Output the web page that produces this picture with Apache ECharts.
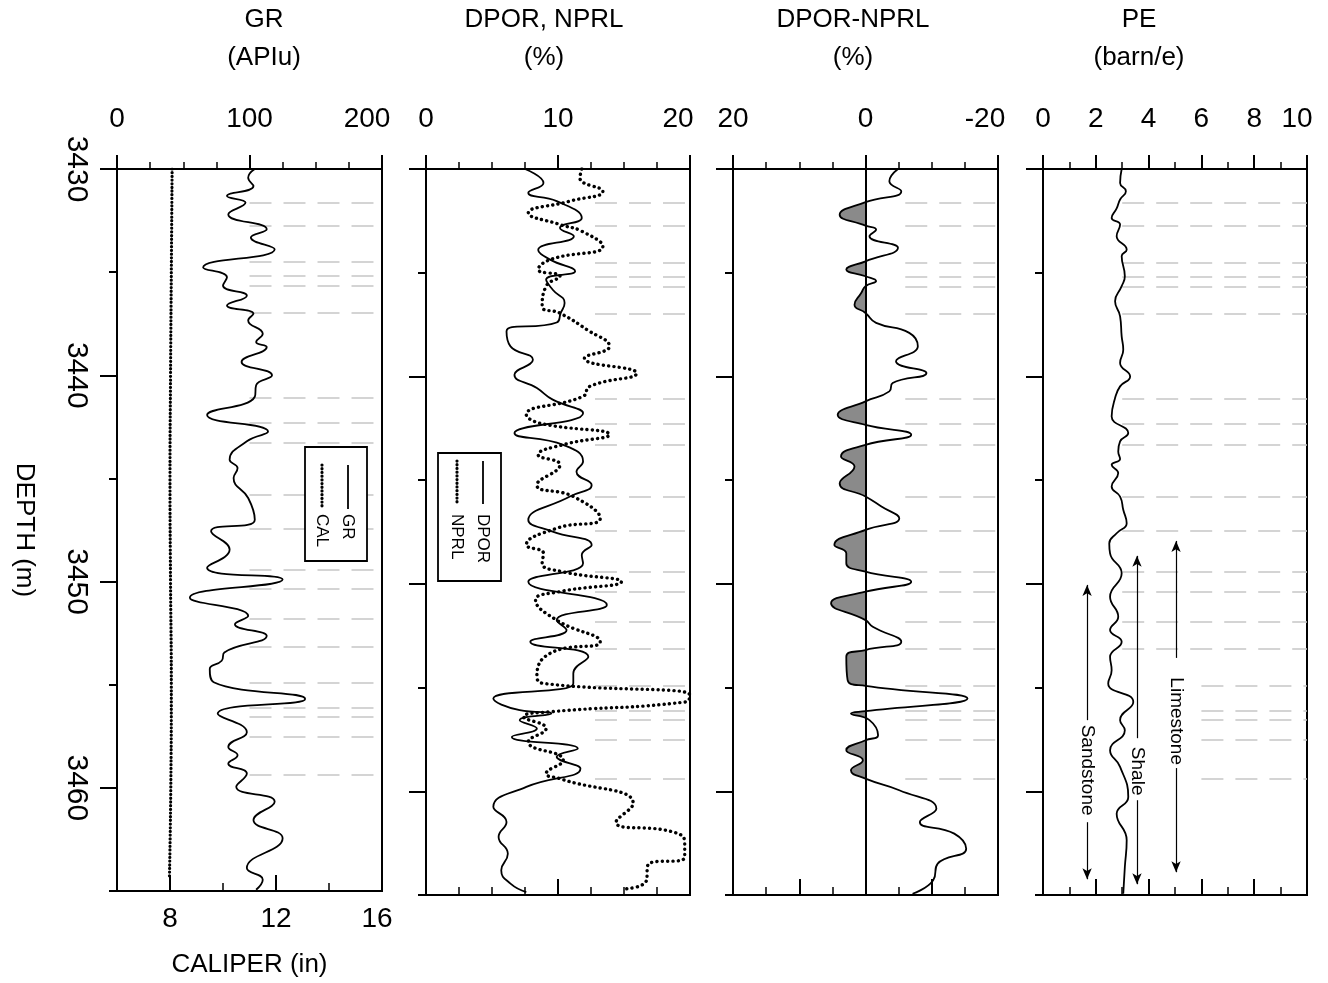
<!DOCTYPE html>
<html>
<head>
<meta charset="utf-8">
<title>Well log</title>
<script src="https://cdn.jsdelivr.net/npm/echarts@6/dist/echarts.min.js"></script>
<style>
  html, body { margin: 0; padding: 0; background: #fff; }
  #chart { width: 1328px; height: 983px; }
</style>
</head>
<body>
<div id="chart"></div>
<script>
// depth in metres, readings picked off the log at the turning points
const grDepth = [3430.0, 3430.43, 3430.83, 3431.31, 3431.63, 3432.2, 3432.92, 3433.32, 3433.89, 3434.77,
  3435.25, 3435.65, 3436.14, 3436.62, 3437.02, 3437.34, 3437.99, 3438.39, 3438.63, 3439.35,
  3440.0, 3440.48, 3441.04, 3441.93, 3442.73, 3443.2, 3444.1, 3444.5, 3444.98, 3445.95,
  3447.0, 3447.56, 3448.45, 3449.33, 3449.9, 3450.78, 3451.67, 3452.07, 3452.63, 3453.44,
  3453.84, 3454.24, 3454.88, 3455.69, 3456.41, 3457.3, 3458.02, 3458.42, 3458.82, 3459.31,
  3459.95, 3460.67, 3461.56, 3462.44, 3463.89, 3464.45, 3464.94];
const grValue = [104, 99, 103, 83, 97, 84, 113, 101, 119, 65,
  83, 80, 98, 83, 103, 99, 110, 105, 113, 94,
  117, 105, 104, 68, 114, 98, 85, 91, 88, 99,
  104, 71, 85, 68, 125, 55, 99, 89, 113, 81,
  79, 70, 73, 142, 76, 98, 84, 91, 84, 98,
  90, 119, 103, 125, 98, 110, 105];

const calDepth = [3430, 3435, 3440, 3445, 3450, 3455, 3460, 3464.3];
const calValue = [8.08, 8.05, 8.02, 8.0, 8.02, 8.05, 8.03, 7.98];

const dporDepth = [3430.0, 3430.67, 3431.15, 3431.55, 3432.36, 3432.84, 3433.24, 3433.9, 3434.37, 3434.93,
  3435.33, 3435.82, 3436.46, 3436.95, 3437.4, 3437.83, 3438.55, 3439.2, 3439.92, 3440.56,
  3441.12, 3441.77, 3442.73, 3443.3, 3444.1, 3444.6, 3445.23, 3445.79, 3446.92, 3447.48,
  3448.13, 3448.61, 3449.01, 3449.9, 3451.02, 3451.75, 3452.23, 3452.79, 3453.52, 3454.32,
  3454.8, 3455.53, 3456.09, 3456.25, 3456.57, 3456.97, 3457.38, 3457.94, 3458.34, 3458.9,
  3459.79, 3460.75, 3461.48, 3462.2, 3463.01, 3463.81, 3464.45, 3464.86];
const dporValue = [7.5, 8.9, 7.75, 9.9, 11.8, 10.15, 11.2, 8.5, 9.4, 11.3,
  9.1, 9.6, 10.5, 10.2, 9.9, 6.1, 6.4, 8.1, 6.7, 8.4,
  9.6, 11.9, 6.7, 10.4, 11.9, 11.4, 12.55, 10.9, 7.75, 9.6,
  12.55, 11.8, 11.9, 7.75, 13.7, 9.9, 10.65, 7.9, 12.3, 11.16,
  11.16, 5.1, 7.1, 9.5, 7.1, 8.4, 6.5, 11.5, 9.9, 11.7,
  7.6, 5.1, 6.1, 5.5, 6.2, 5.7, 6.4, 7.6];

const nprlDepth = [3430.0, 3430.43, 3431.07, 3431.55, 3432.12, 3432.68, 3433.0, 3433.72, 3434.37, 3434.85,
  3435.17, 3435.65, 3436.62, 3436.95, 3437.75, 3438.55, 3439.12, 3439.84, 3440.48, 3440.96,
  3441.85, 3442.25, 3442.81, 3443.29, 3443.78, 3444.26, 3445.23, 3445.79, 3446.84, 3447.32,
  3448.13, 3448.53, 3449.01, 3449.41, 3449.9, 3450.38, 3450.78, 3451.75, 3452.79, 3453.35,
  3454.48, 3454.8, 3455.37, 3455.69, 3456.17, 3456.41, 3456.97, 3457.62, 3458.5, 3459.15,
  3459.39, 3460.6, 3461.48, 3461.96, 3462.44, 3463.17, 3463.57, 3464.3, 3464.7];
const nprlValue = [11.8, 11.66, 13.4, 10.9, 7.75, 10.15, 11.8, 13.4, 9.4, 8.5,
  10.15, 9.1, 8.8, 10.15, 12.2, 13.9, 12.0, 15.96, 12.4, 11.9,
  7.6, 8.6, 13.9, 10.4, 8.5, 10.15, 8.4, 11.16, 13.2, 9.9,
  7.6, 8.9, 8.8, 10.3, 14.8, 10.1, 8.3, 9.9, 13.2, 9.4,
  8.4, 8.9, 20.0, 19.7, 9.4, 7.4, 9.1, 7.75, 10.4, 9.1,
  10.15, 15.7, 14.4, 18.7, 19.6, 19.6, 16.8, 16.7, 15.2];

const diffDepth = [3430.0, 3430.59, 3431.07, 3431.6, 3432.2, 3432.73, 3432.92, 3433.24, 3433.8, 3434.45,
  3434.85, 3435.17, 3435.4, 3435.65, 3435.98, 3436.54, 3436.94, 3437.42, 3437.9, 3438.55,
  3439.27, 3439.84, 3440.32, 3440.72, 3441.2, 3441.85, 3442.33, 3442.81, 3443.3, 3443.86,
  3444.34, 3445.15, 3445.79, 3446.27, 3446.84, 3447.4, 3448.13, 3448.53, 3449.01, 3449.41,
  3449.9, 3450.38, 3450.94, 3451.75, 3452.07, 3452.79, 3453.19, 3453.52, 3454.64, 3454.92,
  3455.53, 3456.14, 3456.25, 3456.57, 3457.3, 3457.54, 3458.02, 3458.5, 3458.99, 3459.39,
  3459.95, 3460.84, 3461.48, 3462.04, 3462.77, 3463.49, 3464.3, 3464.94];
const diffValue = [-4.9, -3.6, -5.4, 0, 3.9, 0, -1.6, -0.6, -4.9, 0,
  2.9, 0, -1.6, 0, 0.65, 1.66, 0, -1.6, -6.6, -7.9,
  -4.6, -9.2, -4.1, -3.6, 0, 4.2, 0, -6.9, 0, 3.7,
  1.66, 3.9, 0, -2.4, -5.1, 0, 4.7, 2.9, 2.9, 0,
  -6.9, 0, 5.2, 0, -1.1, -5.4, 0, 2.9, 2.7, 0,
  -15.4, 0, 2.2, -0.6, -1.9, 0, 2.9, 0.4, 2.2, 0,
  -5.1, -10.7, -8.2, -13.4, -15.2, -10.9, -10.2, -7.1];

const peDepth = [3430.0, 3430.67, 3431.07, 3431.47, 3431.9, 3432.36, 3432.68, 3433.24, 3433.89, 3434.2,
  3435.17, 3435.65, 3436.38, 3437.1, 3438.07, 3438.71, 3439.35, 3440.0, 3440.48, 3441.04,
  3441.93, 3442.73, 3443.13, 3443.62, 3443.98, 3444.26, 3444.66, 3445.31, 3445.79, 3446.43,
  3447.08, 3447.56, 3448.05, 3448.53, 3449.49, 3450.62, 3451.59, 3452.23, 3452.79, 3453.52,
  3454.16, 3454.8, 3455.69, 3456.57, 3457.06, 3458.02, 3458.82, 3460.27, 3461.08, 3462.36,
  3463.65, 3464.94];
const peValue = [2.98, 2.92, 3.14, 2.92, 2.79, 2.6, 2.92, 2.79, 3.17, 2.98,
  3.1, 2.98, 2.73, 2.92, 2.98, 3.04, 2.92, 3.3, 2.92, 2.73,
  2.6, 3.23, 2.92, 2.85, 2.92, 2.6, 2.85, 2.6, 2.92, 3.04,
  3.17, 2.79, 2.51, 2.54, 2.98, 2.54, 2.85, 2.54, 2.98, 2.54,
  2.6, 2.47, 3.42, 2.92, 3.1, 2.54, 2.92, 3.23, 2.79, 3.17,
  3.1, 3.04];

// depths of the dashed boundary lines
const markerDepths = [3431.63, 3432.73, 3434.5, 3435.19, 3435.67, 3436.96, 3441.09, 3442.3, 3443.27, 3445.79,
  3447.43, 3449.44, 3450.37, 3451.82, 3453.14, 3454.91, 3456.12, 3456.53, 3457.53, 3459.38];

// lithology ranges on the PE track
const lithoNames = ['Sandstone', 'Shale', 'Limestone'];
const lithoPE = [1.67, 3.56, 5.04];
const lithoTop = [3450.05, 3448.65, 3447.93];
const lithoGapTop = [3456.57, 3457.44, 3453.57];
const lithoGapBottom = [3461.49, 3460.43, 3458.88];
const lithoBottom = [3464.24, 3464.48, 3463.9];
const lithoLabelDepth = [3458.98, 3459.03, 3456.62];

// tick labels
const depthTicks = [3430, 3440, 3450, 3460];
const depthMinorTicks = [3435, 3445, 3455, 3465];
const grTicks = [0, 100, 200];
const porTicks = [0, 10, 20];
const diffTicks = [20, 0, -20];
const peTicks = [0, 2, 4, 6, 8, 10];
const calTicks = [8, 12, 16];

const font = 'Liberation Sans, Arial, sans-serif';
const ink = '#000';
const TOP = 169, HEIGHT = 726;
const panels = [
  { left: 117, width: 265 },
  { left: 426, width: 264 },
  { left: 733, width: 265 },
  { left: 1043, width: 264 }
];
const MS = 1000; // depth scale used on the hidden time axis of the difference track

function pairs(depths, values, k) {
  return depths.map((d, i) => [values[i], d * (k || 1)]);
}

function labelRich(last, pad, size) {
  return {
    formatter: v => (v === last ? '{s|' + v + '}' : '{n|' + v + '}'),
    rich: {
      n: { fontSize: size, color: ink, fontFamily: font },
      s: { fontSize: size, color: ink, fontFamily: font, padding: [0, pad, 0, 0] }
    }
  };
}

function topAxis(grid, min, max, interval, split, labels, inverse, last, pad) {
  return {
    type: 'value', gridIndex: grid, position: 'top', min, max, interval, inverse: !!inverse,
    axisLine: { show: true, onZero: false, lineStyle: { color: ink, width: 2 } },
    axisTick: { show: true, length: 14, lineStyle: { color: ink, width: 2 } },
    minorTick: { show: true, splitNumber: split, length: 7, lineStyle: { color: ink, width: 1.5 } },
    splitLine: { show: false },
    axisLabel: Object.assign({ customValues: labels, margin: 36 }, labelRich(last, pad, 28))
  };
}

function bottomAxis(grid, min, max, interval, split, inverse) {
  return {
    type: 'value', gridIndex: grid, position: 'bottom', min, max, interval, inverse: !!inverse,
    axisLine: { show: true, onZero: false, lineStyle: { color: ink, width: 2 } },
    axisTick: { show: true, inside: true, length: 16, lineStyle: { color: ink, width: 2 } },
    minorTick: { show: true, splitNumber: split, length: 8, lineStyle: { color: ink, width: 1.5 } },
    splitLine: { show: false },
    axisLabel: { show: false }
  };
}

function depthAxes(grid, withLabels) {
  const major = {
    type: 'value', gridIndex: grid, position: 'left', min: 3430, max: 3465, inverse: true,
    axisLine: { show: true, onZero: false, lineStyle: { color: ink, width: 2 } },
    axisTick: { show: true, customValues: depthTicks, length: 17, lineStyle: { color: ink, width: 2 } },
    splitLine: { show: false },
    axisLabel: withLabels
      ? { customValues: depthTicks, rotate: -90, margin: 26, fontSize: 30, color: ink, fontFamily: font,
          formatter: v => String(v) }
      : { show: false }
  };
  if (withLabels) {
    Object.assign(major, {
      name: 'DEPTH (m)', nameLocation: 'middle', nameRotate: -90, nameGap: 80,
      nameTextStyle: { fontSize: 26, color: ink, fontFamily: font }
    });
  }
  const minor = {
    type: 'value', gridIndex: grid, position: 'left', min: 3430, max: 3465, inverse: true,
    axisLine: { show: false, onZero: false },
    axisTick: { show: true, customValues: depthMinorTicks, length: 8, lineStyle: { color: ink, width: 2 } },
    splitLine: { show: false },
    axisLabel: { show: false }
  };
  return [major, minor];
}

const dash = { color: '#c6c6c6', width: 1.5, type: [22, 12] };
function markerLines(startOf, end, k) {
  return markerDepths.map(d => [
    { coord: [startOf(d), d * (k || 1)] },
    { coord: [end, d * (k || 1)] }
  ]);
}

const arrowLine = { color: ink, width: 1.2, type: 'solid' };
const lithoArrows = [];
lithoNames.forEach((n, i) => {
  lithoArrows.push([
    { coord: [lithoPE[i], lithoTop[i]], symbol: 'arrow', symbolSize: [7, 11], lineStyle: arrowLine },
    { coord: [lithoPE[i], lithoGapTop[i]], symbol: 'none' }
  ]);
  lithoArrows.push([
    { coord: [lithoPE[i], lithoGapBottom[i]], symbol: 'none', lineStyle: arrowLine },
    { coord: [lithoPE[i], lithoBottom[i]], symbol: 'arrow', symbolSize: [7, 11] }
  ]);
});

const curve = { color: ink, width: 1.8 };
const calDots = { color: ink, width: 3.2, type: [0.1, 3.6], cap: 'round' };

const titleTexts = ['GR\n(APIu)', 'DPOR, NPRL\n(%)', 'DPOR-NPRL\n(%)', 'PE\n(barn/e)'];
const titleCenters = [264, 544, 853, 1139];

const dom = document.getElementById('chart');
const myChart = echarts.init(dom, null, { renderer: 'canvas' });

const xAxes = [
  topAxis(0, 0, 200, 100, 4, grTicks, false, 200, 30),
  {
    type: 'value', gridIndex: 0, position: 'bottom', min: 6, max: 16, interval: 2,
    axisLine: { show: true, onZero: false, lineStyle: { color: ink, width: 2 } },
    axisTick: { show: true, inside: true, customValues: calTicks, length: 16, lineStyle: { color: ink, width: 2 } },
    splitLine: { show: false },
    axisLabel: Object.assign({ customValues: calTicks, margin: 14 }, labelRich(16, 10, 28)),
    name: 'CALIPER (in)', nameLocation: 'middle', nameGap: 61,
    nameTextStyle: { fontSize: 26, color: ink, fontFamily: font }
  },
  {
    type: 'value', gridIndex: 0, position: 'bottom', min: 6, max: 16,
    axisLine: { show: false, onZero: false },
    axisTick: { show: true, inside: true, customValues: [10, 14], length: 8, lineStyle: { color: ink, width: 1.5 } },
    splitLine: { show: false },
    axisLabel: { show: false }
  },
  topAxis(1, 0, 20, 10, 4, porTicks, false, 20, 24),
  bottomAxis(1, 0, 20, 10, 4),
  topAxis(2, -20, 20, 20, 4, diffTicks, true, -20, 26),
  bottomAxis(2, -20, 20, 10, 2, true),
  topAxis(3, 0, 10, 2, 2, peTicks, false, 10, 20),
  bottomAxis(3, 0, 10, 2, 2)
];

const yAxes = [].concat(
  depthAxes(0, true),
  depthAxes(1, false),
  depthAxes(2, false),
  [{
    type: 'time', gridIndex: 2, position: 'left', show: false,
    axisLine: { onZero: false },
    min: 3430 * MS, max: 3465 * MS, inverse: true
  }],
  depthAxes(3, false)
);

const option = {
  backgroundColor: '#fff',
  animation: false,
  textStyle: { fontFamily: font, color: ink },
  title: titleTexts.map((t, i) => ({
    text: t, left: titleCenters[i], top: 1, padding: 0, textAlign: 'center',
    textStyle: { fontSize: 26, fontWeight: 'normal', color: ink, fontFamily: font, lineHeight: 38 }
  })),
  grid: panels.map(p => ({
    left: p.left, width: p.width, top: TOP, height: HEIGHT,
    show: true, borderColor: ink, borderWidth: 2, backgroundColor: 'transparent'
  })),
  xAxis: xAxes,
  yAxis: yAxes,
  visualMap: {
    show: false, type: 'piecewise', seriesIndex: 4, dimension: 0,
    pieces: [
      { gt: 0, lte: 60, color: '#8a8a8a' },
      { gte: -60, lte: 0, color: 'rgba(255,255,255,0)' }
    ]
  },
  series: [
    {
      name: 'GR', type: 'line', xAxisIndex: 0, yAxisIndex: 0,
      data: pairs(grDepth, grValue), smooth: 0.5, symbol: 'none', lineStyle: curve, z: 3,
      markLine: {
        silent: true, symbol: 'none', z: 1, label: { show: false }, lineStyle: dash,
        data: markerLines(() => 100, 200)
      }
    },
    {
      name: 'CAL', type: 'line', xAxisIndex: 1, yAxisIndex: 0,
      data: pairs(calDepth, calValue), smooth: 0.5, symbol: 'none', z: 3,
      lineStyle: calDots
    },
    {
      name: 'DPOR', type: 'line', xAxisIndex: 3, yAxisIndex: 2,
      data: pairs(dporDepth, dporValue), smooth: 0.5, symbol: 'none', lineStyle: curve, z: 3,
      markLine: {
        silent: true, symbol: 'none', z: 1, label: { show: false }, lineStyle: dash,
        data: markerLines(() => 12.8, 20)
      }
    },
    {
      name: 'NPRL', type: 'line', xAxisIndex: 3, yAxisIndex: 2,
      data: pairs(nprlDepth, nprlValue), smooth: 0.5, symbol: 'none', z: 3,
      lineStyle: { color: ink, width: 3.4, type: [0.1, 5.2], cap: 'round' }
    },
    {
      name: 'DPOR-NPRL', type: 'line', xAxisIndex: 5, yAxisIndex: 6,
      data: pairs(diffDepth, diffValue, MS), smooth: 0.5, symbol: 'none', z: 3,
      lineStyle: { color: ink, width: 1.8 },
      areaStyle: { opacity: 1, origin: 0 },
      markLine: {
        silent: true, symbol: 'none', z: 1, label: { show: false }, lineStyle: dash,
        data: markerLines(() => -6, -20, MS)
      }
    },
    {
      // zero reference of the difference track, drawn above the fill
      name: 'zero', type: 'line', xAxisIndex: 5, yAxisIndex: 6, z: 4,
      data: [], symbol: 'none',
      markLine: {
        silent: true, symbol: 'none', z: 4, label: { show: false },
        lineStyle: { color: ink, width: 2, type: 'solid' },
        data: [{ xAxis: 0 }]
      }
    },
    {
      name: 'PE', type: 'line', xAxisIndex: 7, yAxisIndex: 7,
      data: pairs(peDepth, peValue), smooth: 0.5, symbol: 'none', lineStyle: curve, z: 3,
      markLine: {
        silent: true, symbol: 'none', z: 1, label: { show: false }, lineStyle: dash,
        data: markerLines(d => (d > 3454 ? 6 : 3), 10).concat(lithoArrows)
      },
      markPoint: {
        silent: true, symbol: 'circle', symbolSize: 1,
        itemStyle: { color: 'rgba(0,0,0,0)' },
        label: {
          show: true, position: 'inside', rotate: -90, formatter: '{b}',
          fontSize: 19, color: ink, fontFamily: font
        },
        data: lithoNames.map((n, i) => ({ name: n, coord: [lithoPE[i], lithoLabelDepth[i]] }))
      }
    }
  ],
  graphic: [
    // GR / CAL key
    { type: 'rect', z: 100, shape: { x: 305, y: 447, width: 62, height: 114 }, style: { fill: '#fff', stroke: ink, lineWidth: 1.8 } },
    { type: 'line', z: 101, shape: { x1: 348, y1: 465, x2: 348, y2: 509 }, style: { stroke: ink, lineWidth: 1.8 } },
    { type: 'line', z: 101, shape: { x1: 322, y1: 465, x2: 322, y2: 509 }, style: { stroke: ink, lineWidth: 3.2, lineDash: [0.1, 3.6], lineCap: 'round' } },
    { type: 'text', z: 101, x: 348, y: 514, rotation: -Math.PI / 2, style: { text: 'GR', fontSize: 17, fontFamily: font, fill: ink, align: 'left', verticalAlign: 'middle' } },
    { type: 'text', z: 101, x: 322, y: 514, rotation: -Math.PI / 2, style: { text: 'CAL', fontSize: 17, fontFamily: font, fill: ink, align: 'left', verticalAlign: 'middle' } },
    // DPOR / NPRL key
    { type: 'rect', z: 100, shape: { x: 438, y: 453, width: 63, height: 128 }, style: { fill: '#fff', stroke: ink, lineWidth: 1.8 } },
    { type: 'line', z: 101, shape: { x1: 483, y1: 461, x2: 483, y2: 504 }, style: { stroke: ink, lineWidth: 1.8 } },
    { type: 'line', z: 101, shape: { x1: 457, y1: 461, x2: 457, y2: 504 }, style: { stroke: ink, lineWidth: 3.2, lineDash: [0.1, 3.6], lineCap: 'round' } },
    { type: 'text', z: 101, x: 483, y: 514, rotation: -Math.PI / 2, style: { text: 'DPOR', fontSize: 17, fontFamily: font, fill: ink, align: 'left', verticalAlign: 'middle' } },
    { type: 'text', z: 101, x: 457, y: 514, rotation: -Math.PI / 2, style: { text: 'NPRL', fontSize: 17, fontFamily: font, fill: ink, align: 'left', verticalAlign: 'middle' } }
  ]
};

myChart.setOption(option);

window.addEventListener('resize', () => {
  setTimeout(() => {
    myChart.resize();
  }, 10);
});
</script>
</body>
</html>
